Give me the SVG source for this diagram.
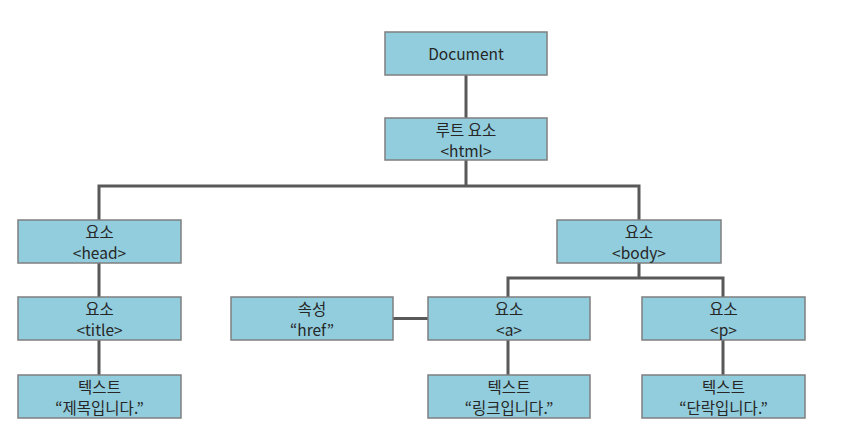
<svg xmlns="http://www.w3.org/2000/svg" width="866" height="429" viewBox="0 0 866 429">
<style>
.box{fill:#92cddd;stroke:#7f7f7f;stroke-width:1.5}
.t{font-family:"Noto Sans CJK KR","Noto Sans",sans-serif;font-size:15.5px;fill:#262626;text-anchor:middle}
.c{fill:none;stroke:#595959;stroke-width:3}
</style>
<rect width="866" height="429" fill="#ffffff"/>
<g id="connectors">
<path class="c" d="M466 75V118"/>
<path class="c" d="M466 160V186M99 220V186H639V220"/>
<path class="c" d="M99 263V297M99 340V375"/>
<path class="c" d="M639 263V278M508 297V278H723V297"/>
<path class="c" d="M393 318.5H428"/>
<path class="c" d="M508 340V375M723 340V375"/>
</g>
<g id="document"><rect class="box" x="385" y="32" width="162" height="43"/><text class="t" x="466" y="59.5">Document</text></g>
<g id="html"><rect class="box" x="385" y="118" width="162" height="42"/><text class="t" x="466" y="135.5">루트 요소</text><text class="t" x="466" y="156.5">&lt;html&gt;</text></g>
<g id="head"><rect class="box" x="18" y="220" width="163" height="43"/><text class="t" x="99.5" y="237.5">요소</text><text class="t" x="99.5" y="258.5">&lt;head&gt;</text></g>
<g id="body"><rect class="box" x="557" y="220" width="164" height="43"/><text class="t" x="639" y="237.5">요소</text><text class="t" x="639" y="258.5">&lt;body&gt;</text></g>
<g id="title"><rect class="box" x="18" y="297" width="163" height="43"/><text class="t" x="99.5" y="314.5">요소</text><text class="t" x="99.5" y="335.5">&lt;title&gt;</text></g>
<g id="attr"><rect class="box" x="231" y="297" width="162" height="43"/><text class="t" x="312" y="314.5">속성</text><text class="t" x="312" y="335.5">“href”</text></g>
<g id="a"><rect class="box" x="428" y="297" width="162" height="43"/><text class="t" x="509" y="314.5">요소</text><text class="t" x="509" y="335.5">&lt;a&gt;</text></g>
<g id="p"><rect class="box" x="642" y="297" width="163" height="43"/><text class="t" x="723.5" y="314.5">요소</text><text class="t" x="723.5" y="335.5">&lt;p&gt;</text></g>
<g id="text1"><rect class="box" x="18" y="375" width="163" height="43"/><text class="t" x="99.5" y="392.5">텍스트</text><text class="t" x="99.5" y="413.5">“제목입니다.”</text></g>
<g id="text2"><rect class="box" x="428" y="375" width="162" height="43"/><text class="t" x="509" y="392.5">텍스트</text><text class="t" x="509" y="413.5">“링크입니다.”</text></g>
<g id="text3"><rect class="box" x="642" y="375" width="163" height="43"/><text class="t" x="723.5" y="392.5">텍스트</text><text class="t" x="723.5" y="413.5">“단락입니다.”</text></g>
</svg>
